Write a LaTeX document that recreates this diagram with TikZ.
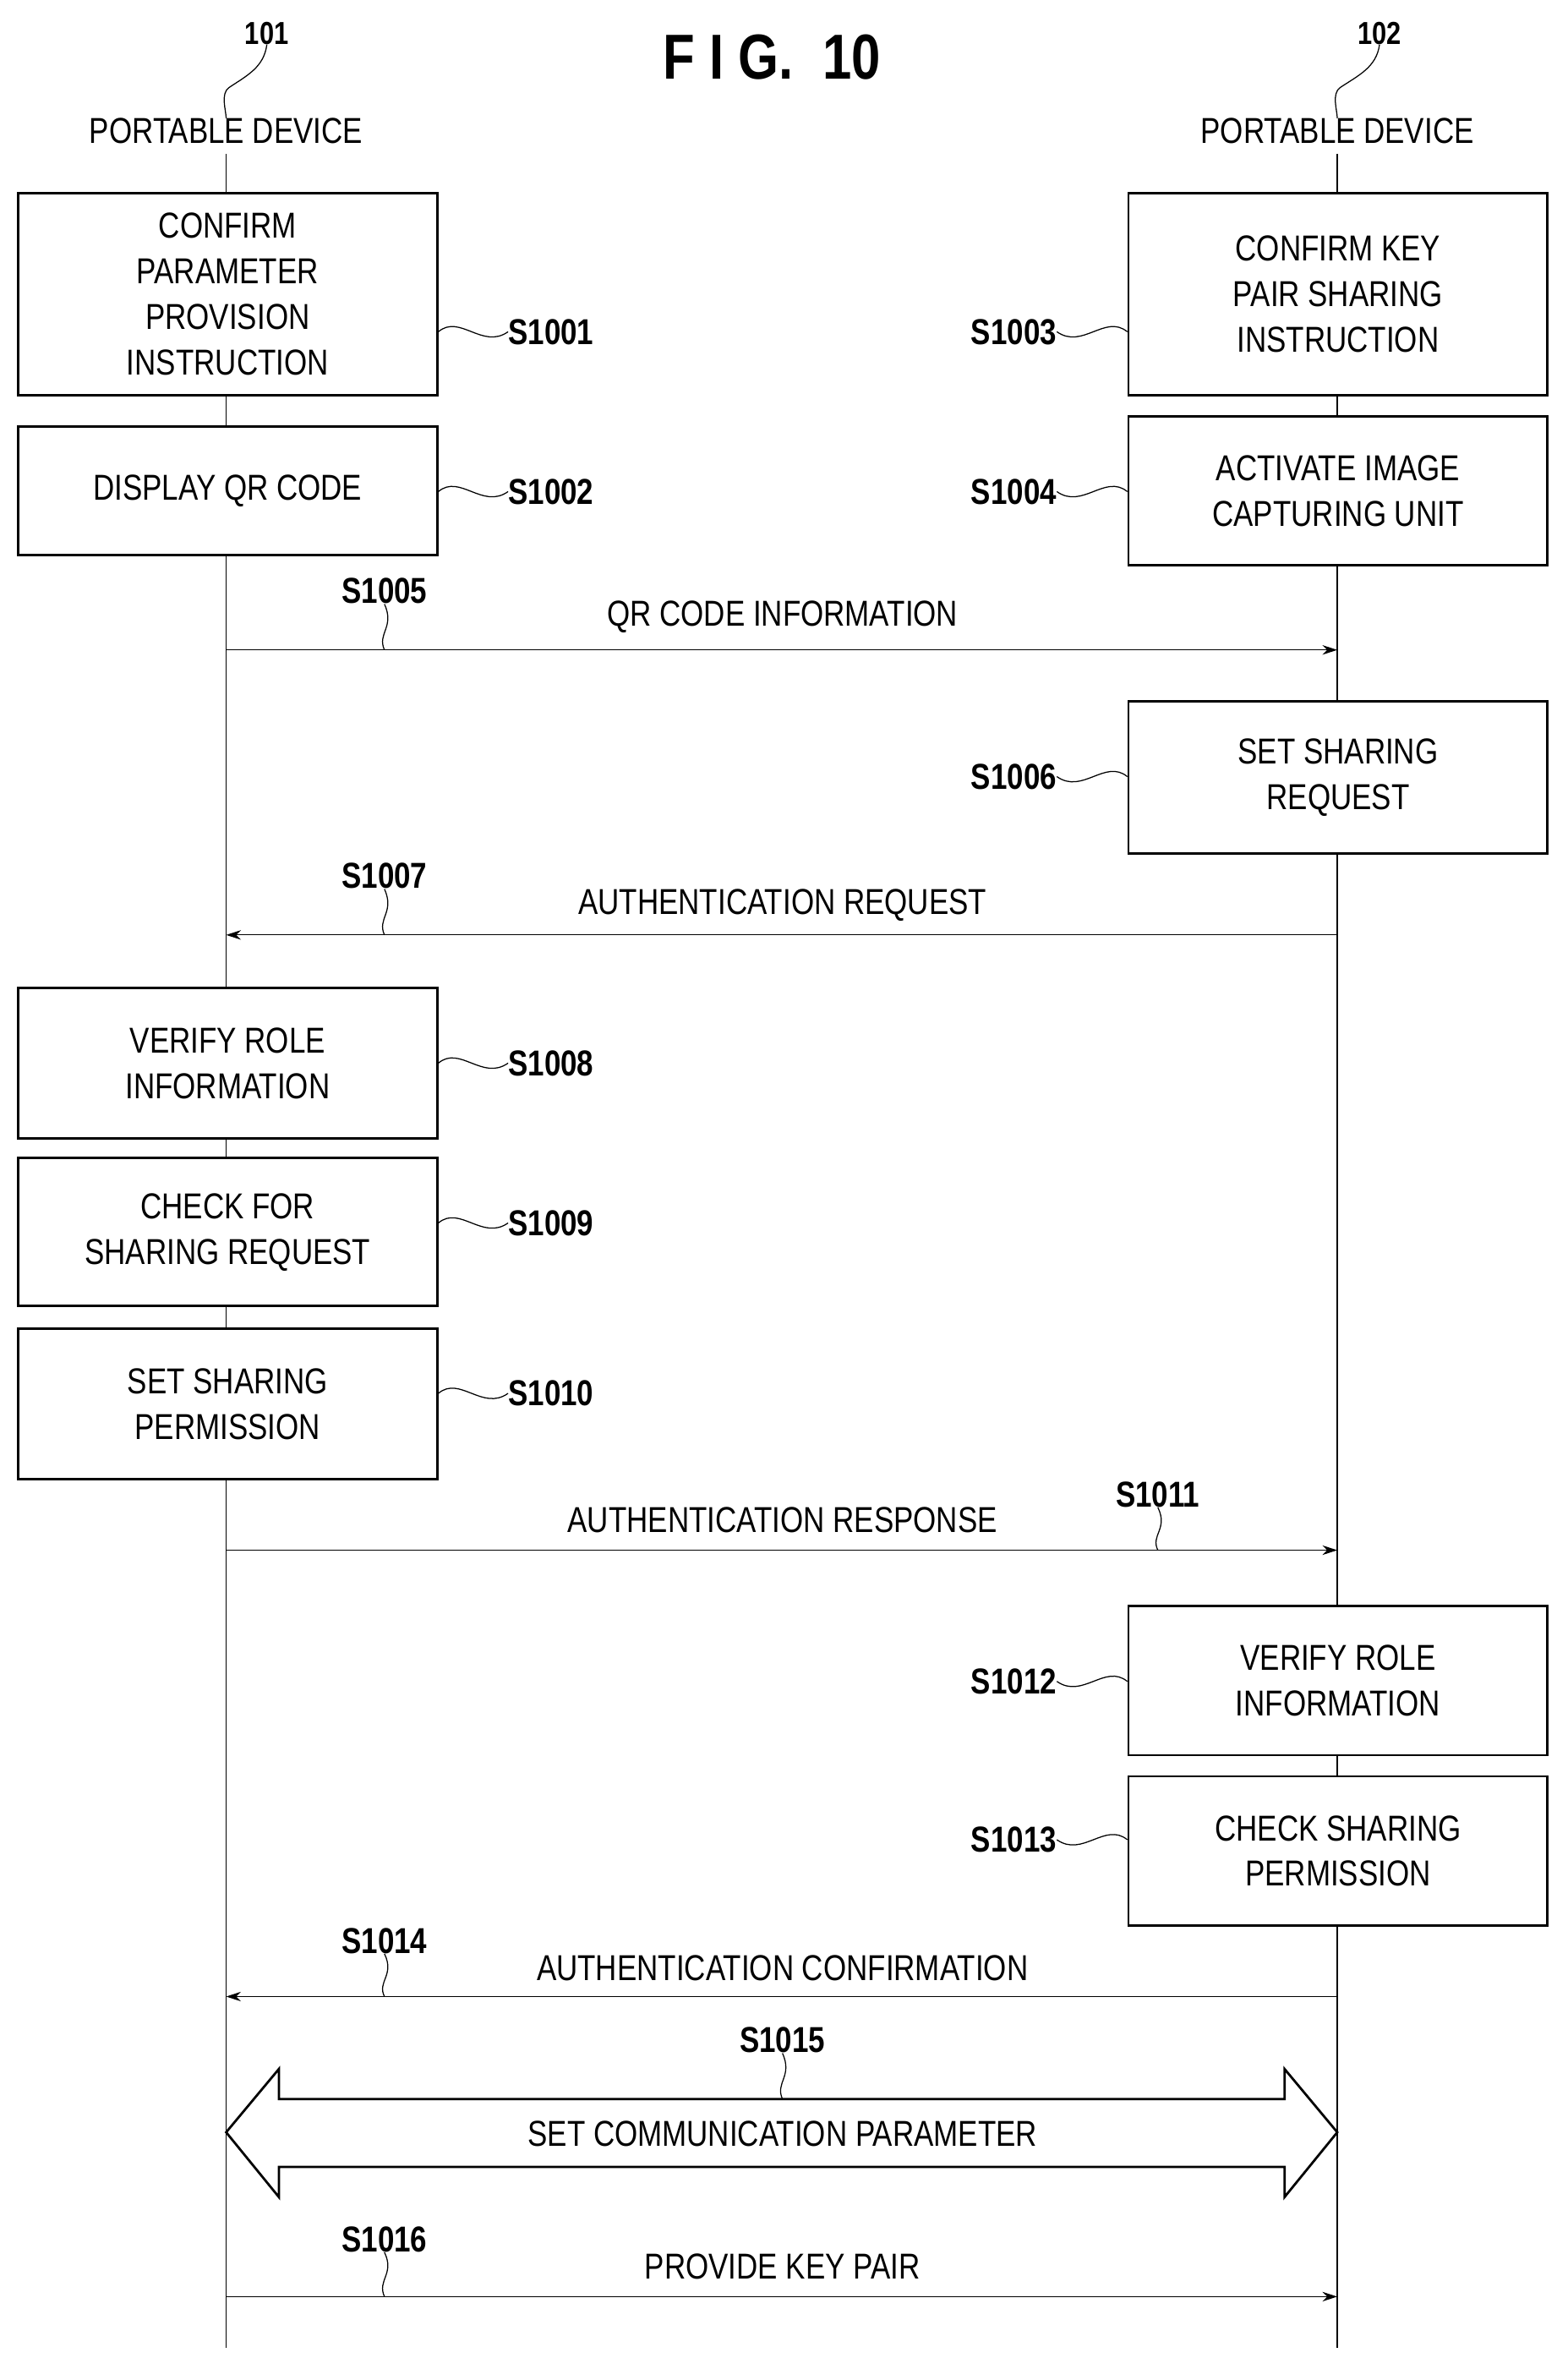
\documentclass[tikz,border=0pt]{standalone}
\usepackage{fontspec}
\setmainfont{Liberation Sans}[FakeStretch=0.82]
\usetikzlibrary{arrows.meta}
\begin{document}
\begin{tikzpicture}[x=0.05cm,y=-0.05cm,
  txt/.style={font=\fontsize{34}{43}\selectfont,align=center,inner sep=0},
  box/.style={draw,line width=2.2pt,minimum width=13.9cm,txt},
  lab/.style={font=\fontsize{34}{40}\selectfont\bfseries,inner sep=0},
  sq/.style={line width=1pt},
  msg/.style={line width=1pt,-{Stealth[length=14pt,width=9pt]}},
  life/.style={line width=1pt}]
\useasboundingbox (0,0) rectangle (1040,1571);
\node[font=\fontsize{60}{60}\selectfont\bfseries,inner sep=0] (title) at (512,38) {F I G.\ \ 10};
\node[lab,font=\fontsize{30}{30}\selectfont\bfseries] (n101) at (177,22) {101};
\node[lab,font=\fontsize{30}{30}\selectfont\bfseries] (n102) at (915,22) {102};
\node[txt] (pd1) at (150,87) {PORTABLE DEVICE};
\node[txt] (pd2) at (887,87) {PORTABLE DEVICE};
\draw[sq] (n101.south) .. controls +(-2,15) and +(12,-8) .. (152,58) .. controls +(-6,4) and +(0,-5) .. (pd1.north);
\draw[sq] (n102.south) .. controls +(-2,15) and +(12,-8) .. (889,58) .. controls +(-6,4) and +(0,-5) .. (pd2.north);
\coordinate (t1) at (150,102); \coordinate (e1) at (150,1557);
\coordinate (t2) at (887,102); \coordinate (e2) at (887,1557);
\draw[life] (t1) -- (e1);
\draw[life] (t2) -- (e2);
% left boxes
\node[box,minimum height=6.7cm,fill=white] (b1) at (151,195) {CONFIRM\\PARAMETER\\PROVISION\\INSTRUCTION};
\node[box,minimum height=4.25cm,fill=white] (b2) at (151,325.5) {DISPLAY QR CODE};
\node[box,minimum height=5cm,fill=white] (b8) at (151,705) {VERIFY ROLE\\INFORMATION};
\node[box,minimum height=4.9cm,fill=white] (b9) at (151,817) {CHECK FOR\\SHARING REQUEST};
\node[box,minimum height=5cm,fill=white] (b10) at (151,931) {SET SHARING\\PERMISSION};
% right boxes
\node[box,minimum height=6.7cm,fill=white] (b3) at (887.5,195) {CONFIRM KEY\\PAIR SHARING\\INSTRUCTION};
\node[box,minimum height=4.95cm,fill=white] (b4) at (887.5,325.5) {ACTIVATE IMAGE\\CAPTURING UNIT};
\node[box,minimum height=5.05cm,fill=white] (b6) at (887.5,515.5) {SET SHARING\\REQUEST};
\node[box,minimum height=4.95cm,fill=white] (b12) at (887.5,1114.5) {VERIFY ROLE\\INFORMATION};
\node[box,minimum height=4.95cm,fill=white] (b13) at (887.5,1227.5) {CHECK SHARING\\PERMISSION};
% step labels left
\foreach \b/\t/\y in {b1/S1001/220,b2/S1002/326,b8/S1008/705,b9/S1009/811,b10/S1010/924}{
  \node[lab,anchor=west] (l\t) at (337,\y) {\t};
  \draw[sq] (\b.east |- 0,\y) .. controls (305,\y-12) and (320,\y+12) .. (l\t.west);
}
\foreach \b/\t/\y in {b3/S1003/220,b4/S1004/326,b6/S1006/515,b12/S1012/1115,b13/S1013/1220}{
  \node[lab,anchor=east] (l\t) at (701,\y) {\t};
  \draw[sq] (l\t.east) .. controls (718,\y+12) and (733,\y-12) .. (\b.west |- 0,\y);
}
% messages
\coordinate (a5l) at (150,431); \coordinate (a5r) at (887,431);
\draw[msg] (a5l) -- (a5r);
\node[txt] (m5) at (519,409) {QR CODE INFORMATION};
\node[lab] (l5) at (255,392) {S1005};
\draw[sq] (l5.south) .. controls (262,416) and (250,420) .. (255,431);

\coordinate (a7l) at (150,620); \coordinate (a7r) at (887,620);
\draw[msg] (a7r) -- (a7l);
\node[txt] (m7) at (519,600) {AUTHENTICATION REQUEST};
\node[lab] (l7) at (255,581) {S1007};
\draw[sq] (l7.south) .. controls (262,605) and (250,609) .. (255,620);

\coordinate (a11l) at (150,1028); \coordinate (a11r) at (887,1028);
\draw[msg] (a11l) -- (a11r);
\node[txt] (m11) at (519,1008) {AUTHENTICATION RESPONSE};
\node[lab] (l11) at (768,991) {S1011};
\draw[sq] (l11.south) .. controls (775,1014) and (763,1018) .. (768,1028);

\coordinate (a14l) at (150,1324); \coordinate (a14r) at (887,1324);
\draw[msg] (a14r) -- (a14l);
\node[txt] (m14) at (519,1305) {AUTHENTICATION CONFIRMATION};
\node[lab] (l14) at (255,1287) {S1014};
\draw[sq] (l14.south) .. controls (262,1310) and (250,1314) .. (255,1324);

% double arrow
\draw[line width=2.2pt,line join=miter,fill=white] (150,1414) -- (185,1372) -- (185,1392) -- (852,1392) -- (852,1372) -- (887,1414) -- (852,1457) -- (852,1437) -- (185,1437) -- (185,1457) -- cycle;
\node[txt] (m15) at (519,1415) {SET COMMUNICATION PARAMETER};
\node[lab] (l15) at (519,1353) {S1015};
\draw[sq] (l15.south) .. controls (526,1377) and (514,1381) .. (519,1392);

\coordinate (a16l) at (150,1523); \coordinate (a16r) at (887,1523);
\draw[msg] (a16l) -- (a16r);
\node[txt] (m16) at (519,1503) {PROVIDE KEY PAIR};
\node[lab] (l16) at (255,1485) {S1016};
\draw[sq] (l16.south) .. controls (262,1508) and (250,1512) .. (255,1523);
\end{tikzpicture}
\end{document}
